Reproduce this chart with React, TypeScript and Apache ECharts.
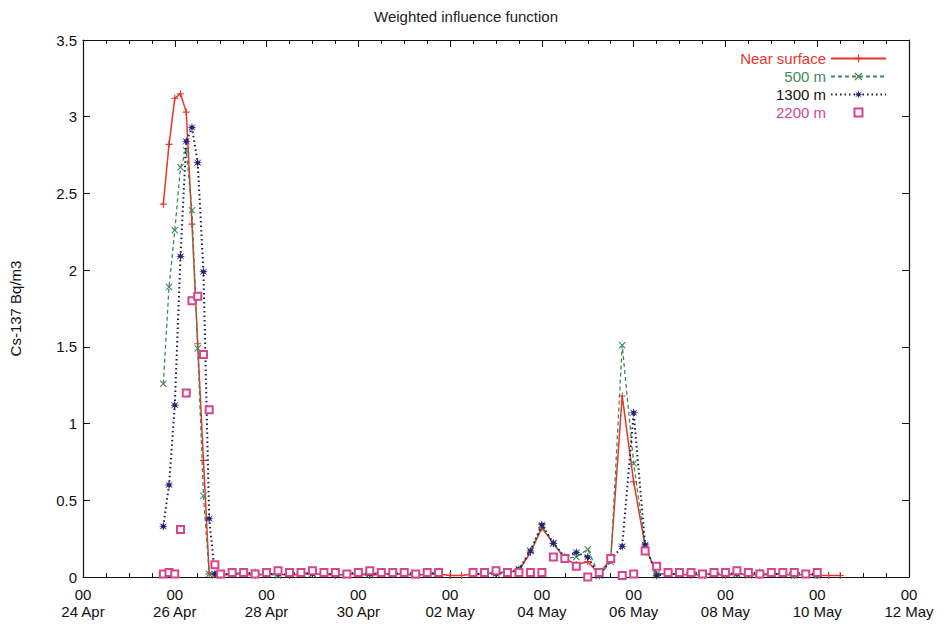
import React, { useEffect, useRef } from "react";
import * as echarts from "echarts";

// ---- data ----
const START = Date.UTC(1986, 3, 24, 0, 0);

const timesPeak = [
  "1986-04-25T18:00", "1986-04-25T21:00", "1986-04-26T00:00", "1986-04-26T03:00",
  "1986-04-26T06:00", "1986-04-26T09:00", "1986-04-26T12:00", "1986-04-26T15:00",
  "1986-04-26T18:00", "1986-04-26T21:00", "1986-04-27T00:00",
];

const timesLate = [
  "1986-04-27T06:00", "1986-04-27T12:00", "1986-04-27T18:00",
  "1986-04-28T00:00", "1986-04-28T06:00", "1986-04-28T12:00", "1986-04-28T18:00",
  "1986-04-29T00:00", "1986-04-29T06:00", "1986-04-29T12:00", "1986-04-29T18:00",
  "1986-04-30T00:00", "1986-04-30T06:00", "1986-04-30T12:00", "1986-04-30T18:00",
  "1986-05-01T00:00", "1986-05-01T06:00", "1986-05-01T12:00", "1986-05-01T18:00",
  "1986-05-02T00:00", "1986-05-02T06:00", "1986-05-02T12:00", "1986-05-02T18:00",
  "1986-05-03T00:00", "1986-05-03T06:00", "1986-05-03T12:00", "1986-05-03T18:00",
  "1986-05-04T00:00", "1986-05-04T06:00", "1986-05-04T12:00", "1986-05-04T18:00",
  "1986-05-05T00:00", "1986-05-05T06:00", "1986-05-05T12:00", "1986-05-05T18:00",
  "1986-05-06T00:00", "1986-05-06T06:00", "1986-05-06T12:00", "1986-05-06T18:00",
  "1986-05-07T00:00", "1986-05-07T06:00", "1986-05-07T12:00", "1986-05-07T18:00",
  "1986-05-08T00:00", "1986-05-08T06:00", "1986-05-08T12:00", "1986-05-08T18:00",
  "1986-05-09T00:00", "1986-05-09T06:00", "1986-05-09T12:00", "1986-05-09T18:00",
  "1986-05-10T00:00", "1986-05-10T06:00", "1986-05-10T12:00",
];

const nearSurfacePeak = [2.43, 2.82, 3.12, 3.15, 3.03, 2.3, 1.52, 0.76, 0.02, 0.02, 0.01];
const m500Peak = [1.26, 1.89, 2.26, 2.67, 2.78, 2.39, 1.49, 0.53, 0.02, 0.01, 0.02];
const m1300Peak = [0.33, 0.6, 1.12, 2.09, 2.84, 2.93, 2.7, 1.99, 0.38, 0.02, 0.02];
const m2200Peak = [0.02, 0.03, 0.02, 0.31, 1.2, 1.8, 1.83, 1.45, 1.09, 0.08, 0.02];

const nearSurfaceLate = [
  0.02, 0.02, 0.01, 0.02, 0.02, 0.01, 0.02, 0.02, 0.02, 0.01, 0.02, 0.02, 0.01,
  0.02, 0.02, 0.02, 0.01, 0.02, 0.02, 0.01, 0.01, 0.02, 0.02, 0.03, 0.03,
  0.04, 0.16, 0.32, 0.22, 0.12, 0.08, 0.1, 0.02, 0.12, 1.18, 0.62, 0.2, 0.02, 0.02,
  0.02, 0.01, 0.02, 0.02, 0.01, 0.02, 0.02, 0.01, 0.02, 0.02, 0.01, 0.02, 0.01, 0.01, 0.01,
];
const m500Late = [
  0.02, 0.03, 0.02, 0.02, 0.01, 0.02, 0.03, 0.02, 0.02, 0.02, 0.01, 0.02, 0.02,
  0.03, 0.02, 0.02, 0.01, 0.02, 0.02, null, null, 0.02, 0.02, 0.03, 0.03,
  0.05, 0.17, 0.33, 0.22, 0.12, 0.13, 0.18, 0.01, 0.1, 1.51, 0.74, 0.2, 0.02, 0.02,
  0.02, 0.02, 0.01, 0.02, 0.02, 0.02, 0.01, 0.02, 0.02, 0.02, 0.01, 0.02, 0.01, null, null,
];
const m1300Late = [
  0.02, 0.02, 0.03, 0.02, 0.02, 0.02, 0.03, 0.02, 0.02, 0.02, 0.02, 0.03, 0.02,
  0.02, 0.02, 0.03, 0.02, 0.02, 0.03, null, null, 0.02, 0.02, 0.02, 0.03,
  0.05, 0.17, 0.34, 0.22, 0.13, 0.16, 0.13, 0.01, 0.11, 0.2, 1.07, 0.21, 0.01, 0.02,
  0.02, 0.03, 0.02, 0.02, 0.03, 0.02, 0.02, 0.03, 0.02, 0.02, 0.03, 0.02, 0.02, null, null,
];
const m2200Late = [
  0.03, 0.03, 0.02, 0.03, 0.04, 0.03, 0.03, 0.04, 0.03, 0.03, 0.02, 0.03, 0.04,
  0.03, 0.03, 0.03, 0.02, 0.03, 0.03, null, null, 0.03, 0.03, 0.04, 0.03,
  0.03, 0.03, 0.03, 0.13, 0.12, 0.07, 0.0, 0.03, 0.12, 0.01, 0.02, 0.17, 0.07, 0.03,
  0.03, 0.03, 0.02, 0.03, 0.03, 0.04, 0.03, 0.02, 0.03, 0.03, 0.03, 0.02, 0.03, null, null,
];

const dateLabels = [
  "24 Apr", "26 Apr", "28 Apr", "30 Apr", "02 May",
  "04 May", "06 May", "08 May", "10 May", "12 May",
];

const seriesNames = ["Near surface", "500 m", "1300 m", "2200 m"];

// ---- helpers ----
const hoursOf = (t: string) => (Date.parse(t + ":00Z") - START) / 3600000;
const allTimes = [...timesPeak, ...timesLate];
const build = (peak: (number | null)[], late: (number | null)[]) => {
  const vals = [...peak, ...late];
  return allTimes.map((t, i) => [hoursOf(t), vals[i]]);
};

const FONT = "'Liberation Sans', Arial, Helvetica, sans-serif";
const RED = "#e8362a";
const GREEN = "#3d8a55";
const NAVY = "#23237a";
const PINK = "#d8448a";

const PLUS = "path://M4.2,0H5.8V4.2H10V5.8H5.8V10H4.2V5.8H0V4.2H4.2Z";
const XMARK = "path://M0,1.1L1.1,0L5,3.9L8.9,0L10,1.1L6.1,5L10,8.9L8.9,10L5,6.1L1.1,10L0,8.9L3.9,5Z";
const STAR =
  "path://M5,0L6,3.3L9.3,1.2L7,4.3L10,5L7,5.7L9.3,8.8L6,6.7L5,10L4,6.7L0.7,8.8L3,5.7L0,5L3,4.3L0.7,1.2L4,3.3Z";

export default function App() {
  const ref = useRef<HTMLDivElement>(null);

  useEffect(() => {
    if (!ref.current) return;
    const chart = echarts.init(ref.current, undefined, { renderer: "svg" });

    const axisLine = { show: true, onZero: false, lineStyle: { color: "#111", width: 1.2 } };
    const xCommon = {
      type: "value" as const,
      min: 0,
      max: 432,
      interval: 48,
      splitLine: { show: false },
      axisLine,
      axisTick: { show: true, inside: true, length: 7, lineStyle: { color: "#111" } },
      minorTick: { show: true, splitNumber: 4, length: 4, lineStyle: { color: "#111" } },
    };
    const yCommon = {
      type: "value" as const,
      min: 0,
      max: 3.5,
      interval: 0.5,
      splitLine: { show: false },
      axisLine,
      axisTick: { show: true, inside: true, length: 7, lineStyle: { color: "#111" } },
    };

    chart.setOption({
      animation: false,
      backgroundColor: "#ffffff",
      title: {
        text: "Weighted influence function",
        left: 369,
        top: 4,
        textStyle: { fontSize: 15, fontWeight: "normal", color: "#222", fontFamily: FONT },
      },
      legend: {
        orient: "vertical",
        right: 52,
        top: 46,
        align: "right",
        itemWidth: 55,
        itemHeight: 10,
        itemGap: 3,
        textStyle: { fontSize: 15, fontFamily: FONT },
        data: [
          { name: seriesNames[0], textStyle: { color: RED } },
          { name: seriesNames[1], textStyle: { color: GREEN } },
          { name: seriesNames[2], textStyle: { color: "#111" } },
          { name: seriesNames[3], textStyle: { color: PINK } },
        ],
      },
      grid: { left: 82, right: 35, top: 40, bottom: 52 },
      xAxis: [
        {
          ...xCommon,
          position: "bottom",
          axisLabel: {
            show: true,
            margin: 9,
            fontSize: 15,
            lineHeight: 17,
            color: "#111",
            fontFamily: FONT,
            formatter: (v: number) => `00\n${dateLabels[Math.round(v / 48)]}`,
          },
        },
        { ...xCommon, position: "top", axisLabel: { show: false } },
      ],
      yAxis: [
        {
          ...yCommon,
          position: "left",
          name: "Cs-137 Bq/m3",
          nameLocation: "middle",
          nameGap: 60,
          nameRotate: 90,
          nameTextStyle: { fontSize: 15, color: "#111", fontFamily: FONT },
          axisLabel: { margin: 6, fontSize: 15, color: "#111", fontFamily: FONT },
        },
        { ...yCommon, position: "right", axisLabel: { show: false } },
      ],
      series: [
        {
          name: seriesNames[0],
          type: "line",
          data: build(nearSurfacePeak, nearSurfaceLate),
          symbol: PLUS,
          symbolSize: 7,
          showAllSymbol: true,
          itemStyle: { color: RED },
          lineStyle: { color: RED, width: 1.5, type: "solid" },
          z: 2,
        },
        {
          name: seriesNames[1],
          type: "line",
          data: build(m500Peak, m500Late),
          symbol: XMARK,
          symbolSize: 7,
          showAllSymbol: true,
          itemStyle: { color: GREEN },
          lineStyle: { color: GREEN, width: 1.3, type: [4, 3] },
          z: 3,
        },
        {
          name: seriesNames[2],
          type: "line",
          data: build(m1300Peak, m1300Late),
          symbol: STAR,
          symbolSize: 9,
          showAllSymbol: true,
          itemStyle: { color: NAVY },
          lineStyle: { color: "#1a1a4a", width: 2, type: [1.5, 3] },
          z: 4,
        },
        {
          name: seriesNames[3],
          type: "line",
          data: build(m2200Peak, m2200Late),
          symbol: "emptyRect",
          symbolSize: 7,
          showAllSymbol: true,
          itemStyle: { color: PINK, borderColor: PINK, borderWidth: 1 },
          lineStyle: { width: 0, opacity: 0 },
          z: 5,
        },
      ],
    });

    return () => chart.dispose();
  }, []);

  return (
    <div
      ref={ref}
      style={{ position: "fixed", left: 0, top: 0, width: 944, height: 629, background: "#fff" }}
    />
  );
}
